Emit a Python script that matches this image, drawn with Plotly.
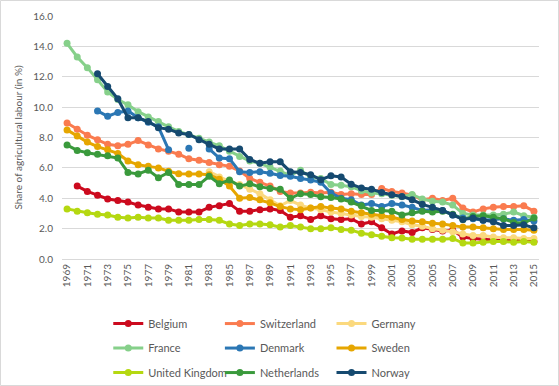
import plotly.graph_objects as go

years = list(range(1969, 2016))
N = None

belgium = [N, 4.8, 4.45, 4.2, 3.95, 3.85, 3.75, 3.55, 3.4, 3.3, 3.3, 3.1,
           3.1, 3.1, 3.4, 3.5, 3.65, 3.15, 3.15, 3.25, 3.3, 3.2, 2.75,
           2.85, 2.6, 2.85, 2.65, 2.6, 2.65, 2.3, 2.45, 2.05, 1.65, 1.85, 1.75,
           2.05, 1.95, 1.85, 1.9, 1.45, 1.35, 1.3, 1.25, 1.2, 1.25, 1.2, 1.15]
switzerland = [8.95, 8.55, 8.15, 7.85, 7.55, 7.45, 7.55, 7.8, 7.5, 7.25, 7.1, 6.9,
               6.6, 6.5, 6.35, 6.2, 6.1, 5.8, 5.3, 5.05, 4.8, 4.45, 4.35,
               4.35, 4.4, 4.35, 4.4, 4.25, 4.3, 4.25, 4.25, 4.65, 4.45, 4.35, 4.2,
               3.9, 4.0, 3.85, 4.0, 3.35, 3.1, 3.3, 3.4, 3.45, 3.45, 3.5, 3.15]
germany = [N, N, N, N, N, N, N, N, N, N, N, N,
           N, N, 5.75, 5.4, 5.1, 4.9, 4.6, 4.3, 3.9, 3.5, 3.85,
           3.55, 3.35, 3.25, 3.1, 3.0, 2.9, 2.8, 2.75, 2.65, 2.55, 2.45, 2.25,
           2.15, 2.0, 1.9, 1.8, 1.65, 1.55, 1.55, 1.45, 1.4, 1.4, 1.35, 1.35]
france = [14.2, 13.3, 12.6, 11.8, 11.0, 10.5, 10.15, 9.7, 9.35, 9.05, 8.7, 8.4,
          8.2, 7.95, 7.7, 7.45, 7.1, 6.75, 6.45, 6.3, 6.05, 5.8, 5.5,
          5.85, 5.4, 5.3, 4.9, 4.85, 4.75, 4.5, 4.35, 4.3, 4.2, 4.1, 4.25,
          3.95, 3.8, 3.75, 3.55, 3.0, 2.9, 2.9, 2.9, 2.95, 3.1, 2.85, 2.75]
denmark = [N, N, N, 9.75, 9.4, 9.65, 9.75, 9.3, 9.0, 8.7, 7.2, N,
           7.3, N, 7.25, 6.65, 6.6, 5.75, 5.7, 5.75, 5.65, 5.5, 5.45,
           5.3, 5.2, 5.05, 4.35, 4.0, 3.9, 3.55, 3.65, 3.45, 3.65, 3.55, 3.4,
           3.2, 3.25, 3.2, 2.9, 2.7, 2.65, 2.55, 2.6, 2.65, 2.55, 2.6, 2.5]
sweden = [8.5, 8.1, 7.7, 7.4, 7.2, 6.95, 6.45, 6.2, 6.1, 6.0, 5.78, 5.62,
          5.6, 5.6, 5.55, 5.25, 4.8, 4.0, 4.05, 3.9, 3.7, 3.45, 3.3,
          3.25, 3.35, 3.45, 3.35, 3.3, 3.15, 3.05, 2.95, 2.85, 2.75, 2.6, 2.5,
          2.45, 2.35, 2.3, 2.2, 2.1, 2.1, 2.05, 2.0, 1.95, 1.95, 1.95, 1.9]
united_kingdom = [3.3, 3.15, 3.05, 2.95, 2.9, 2.75, 2.7, 2.75, 2.7, 2.7, 2.55, 2.55,
                  2.55, 2.6, 2.6, 2.55, 2.3, 2.2, 2.3, 2.3, 2.25, 2.1, 2.2,
                  2.1, 2.0, 2.0, 2.05, 1.95, 1.9, 1.7, 1.6, 1.5, 1.4, 1.38, 1.3,
                  1.3, 1.3, 1.3, 1.35, 1.05, 1.05, 1.1, 1.15, 1.15, 1.1, 1.15, 1.1]
netherlands = [7.5, 7.15, 7.0, 6.9, 6.8, 6.65, 5.7, 5.6, 5.85, 5.35, 5.7, 4.9,
               4.9, 4.9, 5.45, 4.95, 5.2, 4.8, 4.95, 4.75, 4.65, 4.6, 4.0,
               4.3, 4.25, 4.1, 4.05, 3.95, 3.75, 3.5, 3.2, 3.2, 3.15, 2.9, 3.05,
               3.15, 3.1, 3.15, 2.95, 2.6, 2.8, 2.85, 2.75, 2.65, 2.4, 2.35, 2.7]
norway = [N, N, N, 12.2, 11.35, 10.55, 9.3, 9.3, 9.05, 8.65, 8.55, 8.3,
          8.2, 7.85, 7.55, 7.25, 7.25, 7.25, 6.55, 6.3, 6.4, 6.4, 5.75,
          5.7, 5.55, 5.22, 5.48, 5.4, 4.93, 4.67, 4.6, 4.38, 4.23, 4.12, 3.9,
          3.6, 3.4, 3.2, 2.9, 2.6, 2.7, 2.55, 2.45, 2.2, 2.2, 2.25, 2.05]

series_names = ["Belgium", "Switzerland", "Germany", "France", "Denmark",
                "Sweden", "United Kingdom", "Netherlands", "Norway"]
series_values = [belgium, switzerland, germany, france, denmark,
                 sweden, united_kingdom, netherlands, norway]
colors = ["#CC0A1E", "#FA7B4F", "#FBD97E", "#86D08A", "#2B77B4",
          "#E6A600", "#B5D811", "#3A9A3C", "#164A70"]
legend_ids = ["legend", "legend2", "legend3"]

ytick_vals = [0, 2, 4, 6, 8, 10, 12, 14, 16]
xtick_vals = list(range(1969, 2016, 2))

fig = go.Figure()
for i, (name, vals, col) in enumerate(zip(series_names, series_values, colors)):
    fig.add_trace(go.Scatter(
        x=years, y=vals, name=name, mode="lines+markers",
        line=dict(color=col, width=3),
        marker=dict(color=col, size=7),
        connectgaps=False,
        legend=legend_ids[i % 3],
        legendgroup=name,
    ))

font_family = "Lato, Liberation Sans, sans-serif"
legend_common = dict(orientation="v", yanchor="top", y=-0.206, xanchor="left",
                     tracegroupgap=5.5, font=dict(family=font_family, size=11, color="#595959"),
                     bgcolor="rgba(0,0,0,0)", itemwidth=30)

fig.update_layout(
    width=559, height=386,
    margin=dict(l=62, r=20, t=16, b=127, autoexpand=False),
    paper_bgcolor="white", plot_bgcolor="white",
    font=dict(family=font_family, size=10, color="#595959"),
    legend=dict(legend_common, x=0.097),
    legend2=dict(legend_common, x=0.331),
    legend3=dict(legend_common, x=0.565),
    xaxis=dict(range=[1968.5, 2015.5], tickmode="array", tickvals=xtick_vals,
               ticktext=[str(v) for v in xtick_vals], tickangle=-90,
               showgrid=False, zeroline=False, showline=True, automargin=False,
               linecolor="#D9D9D9", linewidth=1, ticks="",
               tickfont=dict(size=10, color="#595959")),
    yaxis=dict(range=[0, 16], tickmode="array", tickvals=ytick_vals,
               tickformat=".1f", showgrid=True, gridcolor="#D9D9D9", gridwidth=1,
               zeroline=False, showline=False, ticks="", ticklabelstandoff=8,
               automargin=False,
               tickfont=dict(size=10, color="#595959"),
               title=dict(text="Share of agricultural labour (in %)",
                          font=dict(size=10, color="#595959"), standoff=8)),
    shapes=[dict(type="rect", xref="paper", yref="paper",
                 x0=(0.5 - 62) / 477, x1=(558.5 - 62) / 477,
                 y0=(259 - 385.5) / 243, y1=(259 - 0.5) / 243,
                 line=dict(color="#D9D9D9", width=1), layer="below")],
)

fig.write_html("out.html", config={"displayModeBar": False},
               post_script="document.body.style.margin='0px';document.body.style.overflow='hidden';")
